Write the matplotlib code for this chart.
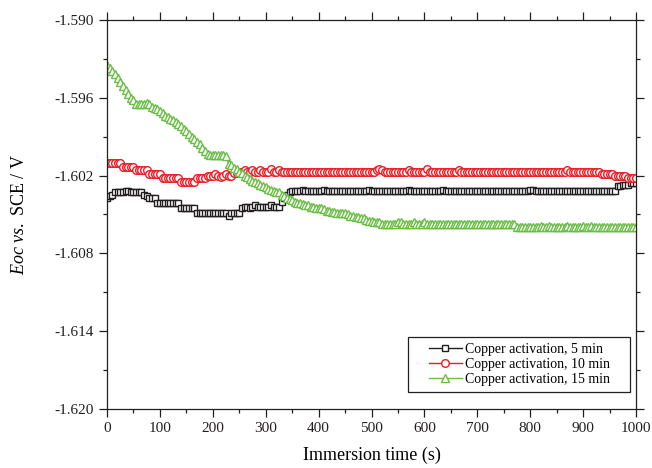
import numpy as np
import matplotlib
matplotlib.use("Agg")
import matplotlib.pyplot as plt
from matplotlib.patches import Rectangle
from matplotlib.ticker import MultipleLocator, FormatStrFormatter

# immersion time, one reading every 5 s
time_s = np.arange(0, 1001, 5)

# OCP readings (V vs. SCE)
eoc_5min = [
    -1.6037, -1.6036, -1.6035, -1.6033, -1.6033, -1.6033, -1.6033, -1.6032, -1.6032, -1.6033,
    -1.6033, -1.6033, -1.6033, -1.6033, -1.6035, -1.6036, -1.6037, -1.6037, -1.6037, -1.6041,
    -1.6041, -1.6041, -1.6041, -1.6041, -1.6041, -1.6041, -1.6041, -1.6041, -1.6045, -1.6045,
    -1.6045, -1.6045, -1.6045, -1.6045, -1.6049, -1.6049, -1.6049, -1.6049, -1.6049, -1.6049,
    -1.6049, -1.6049, -1.6049, -1.6049, -1.6049, -1.6049, -1.6051, -1.6049, -1.6049, -1.6049,
    -1.6049, -1.6045, -1.6044, -1.6044, -1.6045, -1.6044, -1.6043, -1.6044, -1.6044, -1.6044,
    -1.6044, -1.6044, -1.6043, -1.6044, -1.6044, -1.6044, -1.6040, -1.6037, -1.6035, -1.6033,
    -1.6032, -1.6032, -1.6032, -1.6032, -1.6031, -1.6032, -1.6032, -1.6032, -1.6032, -1.6032,
    -1.6032, -1.6032, -1.6031, -1.6032, -1.6032, -1.6032, -1.6032, -1.6032, -1.6032, -1.6032,
    -1.6032, -1.6032, -1.6032, -1.6032, -1.6032, -1.6032, -1.6032, -1.6032, -1.6032, -1.6031,
    -1.6032, -1.6032, -1.6032, -1.6032, -1.6032, -1.6032, -1.6032, -1.6032, -1.6032, -1.6032,
    -1.6032, -1.6032, -1.6032, -1.6032, -1.6031, -1.6032, -1.6032, -1.6032, -1.6032, -1.6032,
    -1.6032, -1.6032, -1.6032, -1.6032, -1.6032, -1.6032, -1.6032, -1.6031, -1.6032, -1.6032,
    -1.6032, -1.6032, -1.6032, -1.6032, -1.6032, -1.6032, -1.6032, -1.6032, -1.6032, -1.6032,
    -1.6032, -1.6032, -1.6032, -1.6032, -1.6032, -1.6032, -1.6032, -1.6032, -1.6032, -1.6032,
    -1.6032, -1.6032, -1.6032, -1.6032, -1.6032, -1.6032, -1.6032, -1.6032, -1.6032, -1.6032,
    -1.6031, -1.6031, -1.6032, -1.6032, -1.6032, -1.6032, -1.6032, -1.6032, -1.6032, -1.6032,
    -1.6032, -1.6032, -1.6032, -1.6032, -1.6032, -1.6032, -1.6032, -1.6032, -1.6032, -1.6032,
    -1.6032, -1.6032, -1.6032, -1.6032, -1.6032, -1.6032, -1.6032, -1.6032, -1.6032, -1.6032,
    -1.6032, -1.6032, -1.6032, -1.6028, -1.6028, -1.6027, -1.6027, -1.6027, -1.6026, -1.6026,
    -1.6026,
]

eoc_10min = [
    -1.6010, -1.6010, -1.6010, -1.6010, -1.6010, -1.6010, -1.6013, -1.6013, -1.6013, -1.6013,
    -1.6013, -1.6016, -1.6016, -1.6016, -1.6016, -1.6016, -1.6019, -1.6019, -1.6019, -1.6019,
    -1.6019, -1.6022, -1.6022, -1.6022, -1.6022, -1.6022, -1.6022, -1.6022, -1.6025, -1.6025,
    -1.6025, -1.6025, -1.6025, -1.6025, -1.6022, -1.6022, -1.6022, -1.6022, -1.6020, -1.6020,
    -1.6020, -1.6019, -1.6020, -1.6021, -1.6020, -1.6019, -1.6020, -1.6020, -1.6018, -1.6018,
    -1.6017, -1.6017, -1.6016, -1.6017, -1.6017, -1.6016, -1.6017, -1.6017, -1.6016, -1.6017,
    -1.6017, -1.6017, -1.6015, -1.6017, -1.6017, -1.6016, -1.6017, -1.6017, -1.6017, -1.6017,
    -1.6017, -1.6017, -1.6017, -1.6017, -1.6017, -1.6017, -1.6017, -1.6017, -1.6017, -1.6017,
    -1.6017, -1.6017, -1.6017, -1.6017, -1.6017, -1.6017, -1.6017, -1.6017, -1.6017, -1.6017,
    -1.6017, -1.6017, -1.6017, -1.6017, -1.6017, -1.6017, -1.6017, -1.6017, -1.6017, -1.6017,
    -1.6017, -1.6017, -1.6016, -1.6015, -1.6016, -1.6017, -1.6017, -1.6017, -1.6017, -1.6017,
    -1.6017, -1.6017, -1.6017, -1.6017, -1.6016, -1.6017, -1.6017, -1.6017, -1.6017, -1.6017,
    -1.6017, -1.6015, -1.6017, -1.6017, -1.6017, -1.6017, -1.6017, -1.6017, -1.6017, -1.6017,
    -1.6017, -1.6017, -1.6017, -1.6016, -1.6017, -1.6017, -1.6017, -1.6017, -1.6017, -1.6017,
    -1.6017, -1.6017, -1.6017, -1.6017, -1.6017, -1.6017, -1.6017, -1.6017, -1.6017, -1.6017,
    -1.6017, -1.6017, -1.6017, -1.6017, -1.6017, -1.6017, -1.6017, -1.6017, -1.6017, -1.6017,
    -1.6017, -1.6017, -1.6017, -1.6017, -1.6017, -1.6017, -1.6017, -1.6017, -1.6017, -1.6017,
    -1.6017, -1.6017, -1.6017, -1.6017, -1.6016, -1.6017, -1.6017, -1.6017, -1.6017, -1.6017,
    -1.6017, -1.6017, -1.6017, -1.6017, -1.6017, -1.6017, -1.6017, -1.6019, -1.6019, -1.6019,
    -1.6019, -1.6019, -1.6020, -1.6020, -1.6020, -1.6020, -1.6020, -1.6022, -1.6022, -1.6022,
    -1.6022,
]

eoc_15min = [
    -1.5935, -1.5937, -1.5939, -1.5942, -1.5945, -1.5948, -1.5951, -1.5954, -1.5957, -1.5960,
    -1.5962, -1.5965, -1.5965, -1.5965, -1.5965, -1.5964, -1.5965, -1.5967, -1.5968, -1.5969,
    -1.5970, -1.5972, -1.5974, -1.5975, -1.5976, -1.5977, -1.5979, -1.5980, -1.5982, -1.5984,
    -1.5986, -1.5988, -1.5990, -1.5992, -1.5994, -1.5996, -1.5999, -1.6001, -1.6003, -1.6004,
    -1.6004, -1.6004, -1.6004, -1.6004, -1.6004, -1.6005, -1.6011, -1.6012, -1.6014, -1.6015,
    -1.6017, -1.6018, -1.6020, -1.6021, -1.6023, -1.6024, -1.6025, -1.6026, -1.6027, -1.6028,
    -1.6029, -1.6030, -1.6031, -1.6032, -1.6033, -1.6033, -1.6035, -1.6036, -1.6037, -1.6038,
    -1.6039, -1.6040, -1.6041, -1.6041, -1.6042, -1.6043, -1.6043, -1.6044, -1.6044, -1.6045,
    -1.6045, -1.6045, -1.6046, -1.6047, -1.6047, -1.6048, -1.6048, -1.6049, -1.6049, -1.6049,
    -1.6049, -1.6050, -1.6051, -1.6051, -1.6052, -1.6052, -1.6053, -1.6053, -1.6054, -1.6055,
    -1.6055, -1.6056, -1.6056, -1.6056, -1.6057, -1.6057, -1.6057, -1.6057, -1.6057, -1.6057,
    -1.6056, -1.6056, -1.6057, -1.6057, -1.6057, -1.6057, -1.6056, -1.6057, -1.6057, -1.6057,
    -1.6056, -1.6057, -1.6057, -1.6057, -1.6057, -1.6057, -1.6057, -1.6057, -1.6057, -1.6057,
    -1.6057, -1.6057, -1.6057, -1.6057, -1.6057, -1.6057, -1.6057, -1.6057, -1.6057, -1.6057,
    -1.6057, -1.6057, -1.6057, -1.6057, -1.6057, -1.6057, -1.6057, -1.6057, -1.6057, -1.6057,
    -1.6057, -1.6057, -1.6057, -1.6057, -1.6057, -1.6060, -1.6060, -1.6060, -1.6060, -1.6060,
    -1.6060, -1.6060, -1.6060, -1.6060, -1.6059, -1.6060, -1.6060, -1.6059, -1.6060, -1.6060,
    -1.6060, -1.6060, -1.6060, -1.6060, -1.6059, -1.6060, -1.6060, -1.6060, -1.6060, -1.6060,
    -1.6059, -1.6060, -1.6060, -1.6059, -1.6060, -1.6060, -1.6060, -1.6060, -1.6060, -1.6060,
    -1.6060, -1.6060, -1.6060, -1.6060, -1.6060, -1.6060, -1.6060, -1.6060, -1.6060, -1.6060,
    -1.6060,
]

labels = ["Copper activation, 5 min", "Copper activation, 10 min", "Copper activation, 15 min"]
colors = ["#231f20", "#ed1c24", "#6abd45"]
markers = ["s", "o", "^"]

plt.rcParams["font.family"] = ["Liberation Serif", "DejaVu Serif"]
plt.rcParams["mathtext.fontset"] = "custom"
plt.rcParams["mathtext.rm"] = "Liberation Serif"
plt.rcParams["mathtext.it"] = "Liberation Serif:italic"

fig = plt.figure(figsize=(6.52, 4.68), dpi=100)
ax = fig.add_axes([0.1641, 0.1261, 0.8114, 0.8312])

series = [eoc_5min, eoc_10min, eoc_15min]
sizes = [4.5, 5.5, 5.5]
for y, lab, c, m, ms in zip(series, labels, colors, markers, sizes):
    ax.plot(time_s, y, color=c, lw=1.0, marker=m, ms=ms, mfc="white",
            mec=c, mew=1.0, label=lab)

ax.set_xlim(0, 1000)
ax.set_ylim(-1.620, -1.590)
ax.xaxis.set_major_locator(MultipleLocator(100))
ax.xaxis.set_minor_locator(MultipleLocator(50))
ax.yaxis.set_major_locator(MultipleLocator(0.006))
ax.yaxis.set_minor_locator(MultipleLocator(0.003))
ax.yaxis.set_major_formatter(FormatStrFormatter("%.3f"))

ax.tick_params(which="both", direction="out", labelsize=11, width=0.9, colors="#231f20")
ax.tick_params(which="major", length=6)
ax.tick_params(which="minor", length=3)
ax.tick_params(which="both", top=True, right=True, labeltop=False, labelright=False)
# top/right ticks point inward
for t in ax.xaxis.get_ticklines(minor=False)[1::2] + ax.xaxis.get_ticklines(minor=True)[1::2]:
    t.set_marker(2)
for t in ax.yaxis.get_ticklines(minor=False)[1::2] + ax.yaxis.get_ticklines(minor=True)[1::2]:
    t.set_marker(1)
for sp in ax.spines.values():
    sp.set_linewidth(0.9)
    sp.set_color("#231f20")

ax.set_xlabel("Immersion time (s)", fontsize=13, labelpad=8)
ax.set_ylabel(r"$Eoc$ $vs.$ SCE / V", fontsize=13, labelpad=19)

# legend box is wider than the text block, so draw the frame on its own
ax.add_patch(Rectangle((0.569, 0.044), 0.42, 0.141, transform=ax.transAxes,
                       facecolor="white", edgecolor="#231f20", lw=0.9, zorder=4))
leg = ax.legend(loc="center", bbox_to_anchor=(0.779, 0.1145), borderaxespad=0,
                fontsize=10, numpoints=1, handlelength=2.4, frameon=False,
                labelspacing=0.12, handletextpad=0.2, borderpad=0.2)
leg.set_zorder(5)

fig.savefig("out.png", dpi=100)
